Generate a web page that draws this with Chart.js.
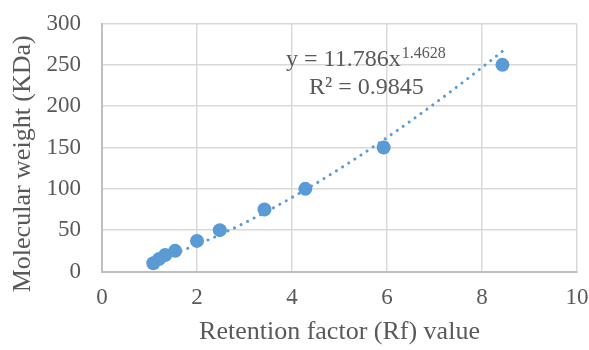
<!DOCTYPE html>
<html>
<head>
<meta charset="utf-8">
<script src="https://cdn.jsdelivr.net/npm/chart.js@4"></script>
<style>
  html, body { margin: 0; padding: 0; background: #fff; }
  #wrap { width: 589px; height: 350px; }
</style>
</head>
<body>
<div id="wrap"><canvas id="mwChart"></canvas></div>
<script>
// Rf values and marker weights
const rfValues = [1.08, 1.2, 1.33, 1.54, 2.0, 2.48, 3.42, 4.28, 5.93, 8.43];
const mwValues = [10, 15, 20, 25, 37, 50, 75, 100, 150, 250];
// power trendline as printed on the chart: y = a * x^b
const trendA = 11.786;
const trendB = 1.4628;
const trendR2 = '0.9845';
const xTicks = [0, 2, 4, 6, 8, 10];
const yTicks = [0, 50, 100, 150, 200, 250, 300];

const blue = '#5B9BD5';
const textGrey = '#595959';
const serif = "'Liberation Serif', 'Times New Roman', serif";

function buildPoints() {
  let pts = [];
  for(let i = 0; i < rfValues.length; i++) {
    pts.push({x: rfValues[i], y: mwValues[i]});
  }
  return pts;
}

function buildTrend() {
  let lo = Math.min(...rfValues);
  let hi = Math.max(...rfValues);
  let pts = [];
  let n = 60;
  for(let i = 0; i <= n; i++) {
    let x = lo + (hi - lo) * i / n;
    pts.push({x: x, y: trendA * Math.pow(x, trendB)});
  }
  return pts;
}

// draws the trendline equation and R² like the Excel label
const equationLabel = {
  id: 'equationLabel',
  afterDatasetsDraw(chart) {
    let ctx = chart.ctx;
    let area = chart.chartArea;
    ctx.save();
    ctx.fillStyle = textGrey;
    ctx.textBaseline = 'alphabetic';
    ctx.textAlign = 'left';
    ctx.font = '24px ' + serif;
    let x0 = area.left + 184;
    let y0 = area.top + 42;
    let main = 'y = ' + trendA + 'x';
    ctx.fillText(main, x0, y0);
    let w = ctx.measureText(main).width;
    ctx.font = '16px ' + serif;
    ctx.fillText(String(trendB), x0 + w + 1, y0 - 8);
    ctx.font = '24px ' + serif;
    ctx.fillText('R² = ' + trendR2, area.left + 207, area.top + 70);
    ctx.restore();
  }
};

const config = {
  type: 'scatter',
  data: {
    datasets: [{
      label: 'Marker',
      data: buildPoints(),
      backgroundColor: blue,
      borderColor: blue,
      pointRadius: 7,
      pointHoverRadius: 7,
      borderWidth: 0,
    },
    {
      label: 'Power trend',
      type: 'line',
      data: buildTrend(),
      borderColor: blue,
      borderWidth: 3,
      borderDash: [0.1, 7.2],
      borderCapStyle: 'round',
      pointRadius: 0,
      fill: false,
      tension: 0,
    }],
  },
  options: {
    responsive: true,
    maintainAspectRatio: false,
    animation: false,
    events: [],
    layout: {
      padding: {top: 23.5, right: 12, bottom: 0, left: 0}
    },
    plugins: {
      legend: {display: false},
      tooltip: {enabled: false},
    },
    scales: {
      x: {
        type: 'linear',
        min: 0,
        max: 10,
        afterBuildTicks: (scale) => {
          scale.ticks = xTicks.map(v => ({value: v}));
        },
        afterFit: (scale) => {
          scale.height = 78.5;
          scale.paddingLeft = 0;
          scale.paddingRight = 0;
        },
        grid: {color: '#d9d9d9', lineWidth: 1.5, drawTicks: false},
        border: {color: '#bfbfbf', width: 2},
        ticks: {
          color: textGrey,
          padding: 13,
          font: {family: serif, size: 23},
        },
        title: {
          display: true,
          text: 'Retention factor (Rf) value',
          color: textGrey,
          font: {family: serif, size: 26},
          padding: {top: 0, bottom: 2},
        },
      },
      y: {
        type: 'linear',
        min: 0,
        max: 300,
        afterBuildTicks: (scale) => {
          scale.ticks = yTicks.map(v => ({value: v}));
        },
        afterFit: (scale) => {
          scale.width = 102;
          scale.paddingTop = 0;
          scale.paddingBottom = 0;
        },
        grid: {color: '#d9d9d9', lineWidth: 1.5, drawTicks: false},
        border: {color: '#bfbfbf', width: 2},
        ticks: {
          color: textGrey,
          padding: 21,
          font: {family: serif, size: 23},
        },
        title: {
          display: true,
          // trailing spaces nudge the rotated title down, as in the original
          text: 'Molecular weight (KDa)     ',
          color: textGrey,
          font: {family: serif, size: 26},
          padding: {top: 8, bottom: 0},
        },
      },
    },
  },
  plugins: [equationLabel],
};

new Chart(document.getElementById('mwChart'), config);
</script>
</body>
</html>
